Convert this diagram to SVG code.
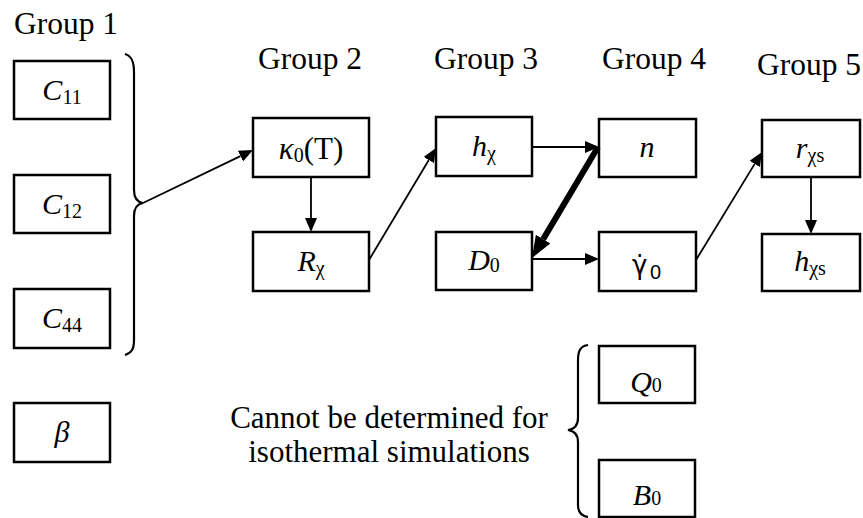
<svg xmlns="http://www.w3.org/2000/svg" width="863" height="518" viewBox="0 0 863 518">
<style>
.box{fill:#fff;stroke:#000;stroke-width:2.5}
text{font-family:'Liberation Serif',serif;fill:#000}
.g{font-size:31.5px}
.lbl{font-size:30px;text-anchor:middle}
.i{font-style:italic}
.s{font-size:20px;font-style:normal}
.ln{stroke:#000;stroke-width:1.8;fill:none}
.br{stroke:#000;stroke-width:2.2;fill:none}
</style>
<defs>
<marker id="ah" markerUnits="userSpaceOnUse" markerWidth="14" markerHeight="12" refX="0" refY="6" orient="auto"><path d="M0,0 L14,6 L0,12 z" fill="#000"/></marker>
<marker id="ahb" markerUnits="userSpaceOnUse" markerWidth="22" markerHeight="17" refX="0" refY="8.5" orient="auto"><path d="M0,0 L22,8.5 L0,17 z" fill="#000"/></marker>
</defs>
<g id="headers">
<text class="g" x="14" y="34">Group 1</text>
<text class="g" x="258" y="69">Group 2</text>
<text class="g" x="434" y="69">Group 3</text>
<text class="g" x="602" y="69">Group 4</text>
<text class="g" x="757" y="75">Group 5</text>
</g>
<g id="C11"><rect class="box" x="14" y="61" width="96" height="58"/><text class="lbl" x="62" y="100"><tspan class="i">C</tspan><tspan class="s" dy="4">11</tspan></text></g>
<g id="C12"><rect class="box" x="14" y="175" width="96" height="58"/><text class="lbl" x="62" y="214"><tspan class="i">C</tspan><tspan class="s" dy="4">12</tspan></text></g>
<g id="C44"><rect class="box" x="14" y="289" width="96" height="59"/><text class="lbl" x="62" y="328"><tspan class="i">C</tspan><tspan class="s" dy="4">44</tspan></text></g>
<g id="beta"><rect class="box" x="14" y="403" width="96" height="59"/><text class="lbl i" x="62" y="442">β</text></g>
<g id="kappa0"><rect class="box" x="253" y="118" width="116" height="59"/><text class="lbl" x="311" y="159" style="font-size:31px"><tspan class="i">κ</tspan><tspan class="s" dy="3">0</tspan><tspan dy="-3">(T)</tspan></text></g>
<g id="Rchi"><rect class="box" x="253" y="232" width="116" height="59"/><text class="lbl" x="311" y="271"><tspan class="i">R</tspan><tspan class="s" dy="4">χ</tspan></text></g>
<g id="hchi"><rect class="box" x="436" y="117" width="96" height="59"/><text class="lbl" x="484" y="156"><tspan class="i">h</tspan><tspan class="s" dy="4">χ</tspan></text></g>
<g id="D0"><rect class="box" x="436" y="232" width="96" height="58"/><text class="lbl" x="484" y="270"><tspan class="i">D</tspan><tspan class="s" dy="2">0</tspan></text></g>
<g id="n"><rect class="box" x="599" y="119" width="97" height="58"/><text class="lbl i" x="647" y="157">n</text></g>
<g id="gamma0"><rect class="box" x="599" y="232" width="97" height="59"/><text x="632" y="274" style="font-family:'DejaVu Sans',sans-serif;font-size:26px">γ̇<tspan x="650" y="279" style="font-family:'Liberation Sans',Arial,sans-serif;font-size:20px">0</tspan></text></g>
<g id="rchis"><rect class="box" x="762" y="120" width="98" height="57"/><text class="lbl" x="810" y="158"><tspan class="i">r</tspan><tspan class="s" dy="4">χs</tspan></text></g>
<g id="hchis"><rect class="box" x="762" y="234" width="98" height="57"/><text class="lbl" x="810" y="271"><tspan class="i">h</tspan><tspan class="s" dy="4">χs</tspan></text></g>
<g id="Q0"><rect class="box" x="599" y="346" width="96" height="57"/><text class="lbl" x="646" y="392"><tspan class="i">Q</tspan><tspan class="s">0</tspan></text></g>
<g id="B0"><rect class="box" x="599" y="460" width="96" height="57"/><text class="lbl" x="647" y="505"><tspan class="i">B</tspan><tspan class="s">0</tspan></text></g>
<g id="note">
<text x="389" y="428" font-size="31" text-anchor="middle">Cannot be determined for</text>
<text x="389" y="462" font-size="31" text-anchor="middle">isothermal simulations</text>
</g>
<g id="braces">
<path class="br" d="M125,54 C132,56 134,62 134,72 L134,190 C134,198 137,202 143,203 C137,204 134,208 134,216 L134,340 C134,350 131,353 125,355"/>
<path class="br" d="M588,345 C581,346 578,350 578,360 L578,418 C578,425 575,429 568,430 C575,431 578,435 578,442 L578,505 C578,512 581,516 588,517"/>
</g>
<g id="connectors">
<line class="ln" x1="143" y1="203" x2="240.4" y2="156.1" marker-end="url(#ah)"/>
<line class="ln" x1="311" y1="177" x2="311" y2="218" marker-end="url(#ah)"/>
<line class="ln" x1="369" y1="260" x2="428.8" y2="160" marker-end="url(#ah)"/>
<line class="ln" x1="532" y1="147" x2="585" y2="147" marker-end="url(#ah)"/>
<line class="ln" x1="598" y1="147" x2="543.2" y2="239.1" style="stroke-width:6" marker-end="url(#ahb)"/>
<line class="ln" x1="532" y1="259" x2="585" y2="259" marker-end="url(#ah)"/>
<line class="ln" x1="696" y1="260" x2="754.7" y2="163.9" marker-end="url(#ah)"/>
<line class="ln" x1="811" y1="177" x2="811" y2="220" marker-end="url(#ah)"/>
</g>
</svg>
